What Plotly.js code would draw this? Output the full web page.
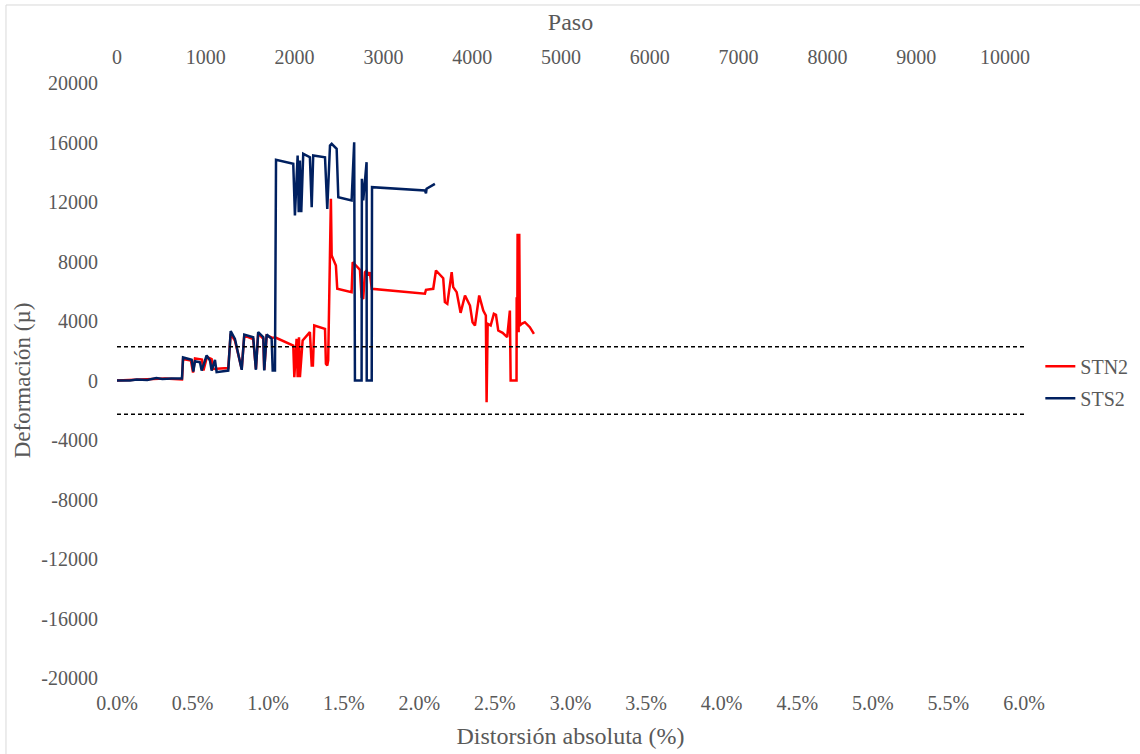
<!DOCTYPE html>
<html>
<head>
<meta charset="utf-8">
<script src="https://cdn.plot.ly/plotly-3.0.1.min.js"></script>
</head>
<body style="margin:0;background:#ffffff">
<div id="chart" style="width:1140px;height:754px"></div>
<script>
// ---- Data (distortion in %, strain in µ) ----
const stn2X = [0, 0.12, 0.218, 0.317, 0.43, 0.437, 0.489, 0.503, 0.516, 0.562, 0.572, 0.595, 0.626, 0.635, 0.736,
  0.752, 0.78, 0.825, 0.842, 0.901, 0.919, 0.934, 0.968, 0.974, 0.99, 1.023, 1.052, 1.166, 1.173, 1.188, 1.195,
  1.204, 1.21, 1.228, 1.276, 1.288, 1.296, 1.305, 1.376, 1.382, 1.391, 1.397, 1.415, 1.42, 1.448, 1.457, 1.552,
  1.559, 1.581, 1.607, 1.618, 1.629, 1.64, 1.651, 1.662, 1.673, 1.685, 2.037, 2.044, 2.092, 2.11, 2.158, 2.169,
  2.185, 2.214, 2.224, 2.247, 2.264, 2.273, 2.302, 2.335, 2.352, 2.368, 2.396, 2.423, 2.44, 2.445, 2.452, 2.472,
  2.493, 2.507, 2.522, 2.551, 2.581, 2.599, 2.604, 2.643, 2.644, 2.648, 2.65, 2.657, 2.661, 2.665, 2.677, 2.698,
  2.731, 2.758];
const stn2Y = [0, 35, 100, 135, 70, 1445, 1345, 540, 1480, 1410, 670, 1580, 1445, 775, 840,
  3140, 2690, 775, 3025, 2790, 775, 3160, 2800, 705, 3025, 2890, 2870, 2350, 220, 2800, 220,
  2910, 220, 2690, 3250, 1010, 1010, 3700, 3475, 1120, 1010, 1345, 12215, 8400, 7730, 6165, 5940,
  7955, 7730, 7440, 5600, 5490, 7280, 7395, 7060, 7280, 6165, 5830, 6100, 6165, 7395, 6880, 5265,
  5155, 7280, 6275, 5940, 4930, 4550, 5715, 5040, 3920, 3700, 5715, 4705, 4370, -1460, 3810, 3700,
  4480, 4415, 3360, 3205, 2910, 4705, 0, 0, 5600, 3250, 9860, 3250, 9860, 3700, 3810, 3920,
  3585, 3140];

const sts2X = [0, 0.086, 0.13, 0.2, 0.26, 0.3, 0.36, 0.43, 0.437, 0.494, 0.505, 0.516, 0.549, 0.56, 0.593,
  0.615, 0.626, 0.648, 0.659, 0.736, 0.752, 0.78, 0.825, 0.842, 0.901, 0.919, 0.934, 0.968, 0.974, 0.99,
  1.023, 1.03, 1.045, 1.052, 1.166, 1.177, 1.195, 1.202, 1.21, 1.219, 1.232, 1.276, 1.288, 1.298, 1.376,
  1.387, 1.391, 1.409, 1.42, 1.453, 1.457, 1.464, 1.552, 1.569, 1.574, 1.618, 1.62, 1.629, 1.651, 1.652,
  1.685, 1.687, 2.037, 2.044, 2.048, 2.103];
const sts2Y = [0, 0, 70, 35, 170, 100, 135, 135, 1550, 1390, 605, 1300, 1230, 670, 1680,
  1345, 670, 1380, 560, 670, 3315, 2800, 720, 3090, 2910, 720, 3250, 2910, 670, 3090,
  2800, 670, 670, 14840, 14570, 11090, 15130, 11315, 14790, 11315, 15240, 15010, 11650, 15130, 15010,
  11990, 11540, 15800, 15910, 15580, 13560, 12320, 12100, 16020, 0, 0, 13560, 12100, 14680, 0,
  0, 13000, 12775, 12590, 12890, 13220];

const limitValues = [2270, -2270];

// ---- Axis ticks ----
const yTickVals = [20000, 16000, 12000, 8000, 4000, 0, -4000, -8000, -12000, -16000, -20000];
const yTickText = ['20000', '16000', '12000', '8000', '4000', '0', '-4000', '-8000', '-12000', '-16000', '-20000'];
const xTickVals = [0, 0.5, 1, 1.5, 2, 2.5, 3, 3.5, 4, 4.5, 5, 5.5, 6];
const xTickText = ['0.0%', '0.5%', '1.0%', '1.5%', '2.0%', '2.5%', '3.0%', '3.5%', '4.0%', '4.5%', '5.0%', '5.5%', '6.0%'];
const pasoTickVals = [0, 1000, 2000, 3000, 4000, 5000, 6000, 7000, 8000, 9000, 10000];
const pasoTickText = ['0', '1000', '2000', '3000', '4000', '5000', '6000', '7000', '8000', '9000', '10000'];

function serif(size) {
  return { family: 'Liberation Serif', size: size, color: '#595959' };
}

const traces = [
  {
    x: stn2X, y: stn2Y, name: 'STN2', type: 'scatter', mode: 'lines',
    line: { color: '#ff0000', width: 2.5 }, legendgroup: 'a', hoverinfo: 'skip'
  },
  {
    x: sts2X, y: sts2Y, name: 'STS2', type: 'scatter', mode: 'lines',
    line: { color: '#002060', width: 2.5 }, legendgroup: 'b', hoverinfo: 'skip'
  },
  {
    // anchors the secondary (Paso) axis; draws nothing
    x: [pasoTickVals[0]], y: [null], xaxis: 'x2', yaxis: 'y', type: 'scatter', mode: 'none',
    showlegend: false, hoverinfo: 'skip'
  }
];

const shapes = limitValues.map(v => ({
  type: 'line', xref: 'paper', yref: 'y', x0: 0, x1: 1, y0: v, y1: v,
  line: { color: '#000000', width: 1.5, dash: '4px,3px' }, layer: 'above'
}));
// outer chart border (Excel chart area)
shapes.push({
  type: 'rect', xref: 'paper', yref: 'paper',
  x0: -0.1224, x1: 1.14, y0: 1.1311, y1: -0.14,
  line: { color: '#d9d9d9', width: 1 }, fillcolor: 'rgba(0,0,0,0)', layer: 'below'
});

const layout = {
  width: 1140, height: 754,
  margin: { l: 117, r: 116, t: 83, b: 76, autoexpand: false },
  paper_bgcolor: '#ffffff', plot_bgcolor: '#ffffff',
  showlegend: true,
  legend: {
    x: 1.018, xanchor: 'left', y: 0.497, yanchor: 'middle',
    font: serif(20),
    traceorder: 'grouped', tracegroupgap: 3, bgcolor: 'rgba(0,0,0,0)'
  },
  xaxis: {
    range: [0, 6], tickvals: xTickVals, ticktext: xTickText,
    showgrid: false, zeroline: false, showline: false, ticks: '',
    ticklabelstandoff: 11,
    tickfont: serif(20),
    title: { text: 'Distorsión absoluta (%)', font: serif(24), standoff: 14 },
    automargin: false, fixedrange: true
  },
  xaxis2: {
    overlaying: 'x', side: 'top', anchor: 'y',
    range: [0, 10214], tickvals: pasoTickVals, ticktext: pasoTickText,
    showgrid: false, zeroline: false, showline: false, ticks: '',
    ticklabelstandoff: 14,
    tickfont: serif(20),
    title: { text: 'Paso', font: serif(24), standoff: 8 },
    automargin: false, fixedrange: true
  },
  yaxis: {
    range: [-20000, 20000], tickvals: yTickVals, ticktext: yTickText,
    showgrid: false, zeroline: false, showline: false, ticks: '',
    ticklabelstandoff: 18,
    tickfont: serif(20),
    title: { text: 'Deformación (µ)', font: serif(23), standoff: 4 },
    automargin: false, fixedrange: true
  },
  shapes: shapes
};

Plotly.newPlot('chart', traces, layout, { displayModeBar: false });
</script>
</body>
</html>
